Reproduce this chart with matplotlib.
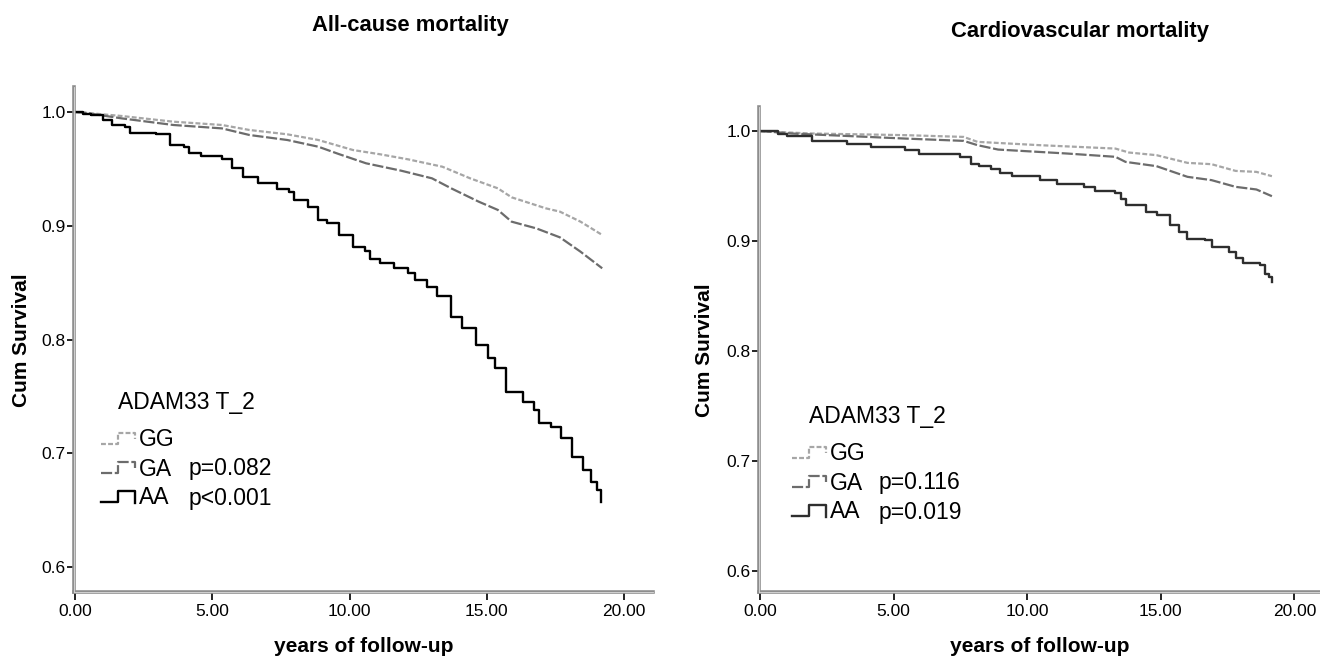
import matplotlib
matplotlib.use("Agg")
import matplotlib.pyplot as plt
from matplotlib.lines import Line2D

# ---------------- data ----------------
# All-cause mortality
ac_gg_t = [0, 0.3, 1.70, 3.58, 5.35, 6.35, 7.73, 8.86, 10.12, 11.12, 12.13, 13.38,
           14.39, 15.4, 15.9, 17.15, 17.66, 18.41, 19.2]
ac_gg_s = [1.0, 0.9995, 0.9965, 0.9915, 0.9886, 0.9842, 0.9804, 0.9754, 0.9666, 0.9628,
           0.9584, 0.9519, 0.9417, 0.9329, 0.925, 0.9153, 0.9124, 0.9036, 0.8919]

ac_ga_t = [0, 0.3, 1.70, 3.58, 5.35, 6.35, 7.73, 8.86, 9.6, 10.6, 11.88, 13.0, 13.7,
           14.7, 15.4, 15.9, 16.8, 17.66, 18.41, 19.2]
ac_ga_s = [1.0, 0.9995, 0.9944, 0.9886, 0.9856, 0.9798, 0.9754, 0.9695, 0.9631, 0.9549,
           0.9484, 0.9417, 0.9329, 0.9212, 0.9139, 0.9036, 0.8977, 0.8898, 0.8772, 0.8626]

ac_aa_t = [0, 0.3, 0.57, 1.0, 1.33, 1.83, 2.01, 2.96, 3.46, 3.96, 4.15, 4.59, 5.34, 5.72,
           6.1, 6.66, 7.36, 7.8, 7.98, 8.49, 8.86, 9.18, 9.62, 10.12, 10.56, 10.75, 11.12,
           11.62, 12.13, 12.38, 12.8, 13.2, 13.7, 14.1, 14.6, 15.05, 15.3, 15.7, 16.3,
           16.7, 16.9, 17.35, 17.7, 18.1, 18.5, 18.8, 19.0, 19.15]
ac_aa_s = [1.0, 0.9985, 0.9974, 0.993, 0.9886, 0.9871, 0.9812, 0.9807, 0.971, 0.9695,
           0.9642, 0.9613, 0.9584, 0.9505, 0.9431, 0.9373, 0.932, 0.930, 0.9226, 0.9168,
           0.905, 0.9021, 0.8919, 0.8816, 0.878, 0.8705, 0.867, 0.8626, 0.8582, 0.8523,
           0.846, 0.838, 0.820, 0.810, 0.795, 0.784, 0.775, 0.754, 0.745, 0.738, 0.727,
           0.723, 0.713, 0.697, 0.685, 0.675, 0.668, 0.657]

# Cardiovascular mortality
cv_gg_t = [0, 0.4, 1.95, 5.43, 7.62, 8.14, 10.46, 13.3, 13.81, 14.84, 16.0, 16.9, 17.8,
           18.58, 19.16]
cv_gg_s = [1.0, 0.9995, 0.9979, 0.9964, 0.9948, 0.9903, 0.9873, 0.9842, 0.9806, 0.9782,
           0.9712, 0.970, 0.9639, 0.963, 0.9591]

cv_ga_t = [0, 0.4, 1.18, 5.43, 7.62, 8.14, 8.91, 11.49, 13.3, 13.68, 14.84, 16.0, 16.9,
           17.8, 18.58, 19.16]
cv_ga_s = [1.0, 0.9995, 0.9979, 0.9933, 0.9912, 0.9873, 0.9833, 0.9797, 0.9767, 0.9721,
           0.9682, 0.9585, 0.9555, 0.9494, 0.947, 0.9409]

cv_aa_t = [0, 0.66, 1.0, 1.95, 3.24, 4.14, 5.43, 5.94, 7.49, 7.88, 8.2, 8.65, 9.0, 9.43,
           10.46, 11.1, 12.13, 12.52, 13.3, 13.5, 13.68, 14.46, 14.84, 15.36, 15.7, 16.0,
           16.65, 16.9, 17.55, 17.8, 18.06, 18.71, 18.9, 19.05, 19.16]
cv_aa_s = [1.0, 0.9979, 0.9958, 0.9912, 0.9888, 0.9858, 0.9833, 0.9797, 0.9767, 0.9706,
           0.968, 0.9652, 0.962, 0.9591, 0.9555, 0.9518, 0.9494, 0.9455, 0.9439, 0.938,
           0.9327, 0.9267, 0.9236, 0.9145, 0.908, 0.9024, 0.9009, 0.8948, 0.8903, 0.885,
           0.8797, 0.8782, 0.8706, 0.867, 0.863]

titles = ["All-cause mortality", "Cardiovascular mortality"]
xticks = [0, 5, 10, 15, 20]
xticklabels = ["0.00", "5.00", "10.00", "15.00", "20.00"]
yticks = [0.6, 0.7, 0.8, 0.9, 1.0]
yticklabels = ["0.6", "0.7", "0.8", "0.9", "1.0"]
legend_title = "ADAM33 T_2"
groups = ["GG", "GA", "AA"]
pvals_ac = ["", "p=0.082", "p<0.001"]
pvals_cv = ["", "p=0.116", "p=0.019"]

# ---------------- figure ----------------
W, H = 1320, 657
fig = plt.figure(figsize=(W / 100, H / 100), dpi=100)
fig.patch.set_facecolor("white")

NARROW = ["Liberation Sans Narrow", "Liberation Sans", "DejaVu Sans"]
SANS = ["Liberation Sans", "DejaVu Sans"]


def fx(x):
    return x / W


def fy(y):
    return 1 - y / H


styles = {
    "GG": dict(color="#a6a6a6", linestyle=(0, (2.2, 1.0)), lw=1.6),
    "GA": dict(color="#6c6c6c", linestyle=(0, (5.0, 1.2)), lw=1.6),
}


def make_axes(rect, xlim, ylim):
    ax = fig.add_axes(rect)
    ax.set_xlim(*xlim)
    ax.set_ylim(*ylim)
    for s in ["top", "right"]:
        ax.spines[s].set_visible(False)
    for s in ["left", "bottom"]:
        ax.spines[s].set_color("#8e8e8e")
        ax.spines[s].set_linewidth(2.6)
    ax.add_line(Line2D([0, 1], [0, 0], transform=ax.transAxes, color="#dcdcdc",
                       lw=0.6, clip_on=False, zorder=5))
    ax.add_line(Line2D([0, 0], [0, 1], transform=ax.transAxes, color="#dcdcdc",
                       lw=0.6, clip_on=False, zorder=5))
    ax.set_xticks(xticks)
    ax.set_xticklabels(xticklabels, fontfamily=NARROW, fontsize=12.5)
    ax.set_yticks(yticks)
    ax.set_yticklabels(yticklabels, fontfamily=NARROW, fontsize=12.5)
    ax.tick_params(axis="y", direction="out", length=5, width=1.3, color="#111111", pad=1)
    ax.tick_params(axis="x", direction="out", length=5.5, width=1.3, color="#111111", pad=3)
    return ax


# Left panel
axL = make_axes([fx(74), fy(592), fx(653 - 74), (592 - 87) / H], (-0.04, 21.05), (0.578, 1.022))
axL.plot(ac_gg_t, ac_gg_s, **styles["GG"])
axL.plot(ac_ga_t, ac_ga_s, **styles["GA"])
axL.plot(ac_aa_t, ac_aa_s, drawstyle="steps-post", color="#000000", lw=1.7)

# Right panel
axR = make_axes([fx(759), fy(592), fx(1320 - 759), (592 - 107) / H], (-0.04, 20.96), (0.581, 1.022))
axR.plot(cv_gg_t, cv_gg_s, **styles["GG"])
axR.plot(cv_ga_t, cv_ga_s, **styles["GA"])
axR.plot(cv_aa_t, cv_aa_s, drawstyle="steps-post", color="#2e2e2e", lw=1.7)

# Titles and axis labels
fig.text(fx(410), fy(25), titles[0], ha="center", va="center", fontsize=15.8,
         fontweight="bold", fontfamily=SANS)
fig.text(fx(1080), fy(32), titles[1], ha="center", va="center", fontsize=15.8,
         fontweight="bold", fontfamily=SANS)
fig.text(fx(364), fy(647), "years of follow-up", ha="center", va="center", fontsize=15,
         fontweight="bold", fontfamily=SANS)
fig.text(fx(1040), fy(647), "years of follow-up", ha="center", va="center", fontsize=15,
         fontweight="bold", fontfamily=SANS)
fig.text(fx(22), fy(340), "Cum Survival", ha="center", va="center", rotation=90,
         fontsize=15, fontweight="bold", fontfamily=SANS)
fig.text(fx(705), fy(350), "Cum Survival", ha="center", va="center", rotation=90,
         fontsize=15, fontweight="bold", fontfamily=SANS)


# Legends
def legend(x0, ytitle, ys, xtext, xp, pvals, aa_color):
    fig.text(fx(x0 + 17), fy(ytitle), legend_title, ha="left", va="center",
             fontsize=16.5, fontfamily=SANS)
    cols = {"GG": styles["GG"], "GA": styles["GA"],
            "AA": dict(color=aa_color, linestyle="-", lw=1.7)}
    for g, yc, p in zip(groups, ys, pvals):
        st = cols[g]
        yb = yc + 4
        yt = yc - 7
        xs = [x0, x0 + 17, x0 + 17, x0 + 34, x0 + 34]
        yv = [yb, yb, yt, yt, yt + (12 if g == "AA" else 6)]
        fig.add_artist(Line2D([fx(v) for v in xs], [fy(v) for v in yv],
                              transform=fig.transFigure, color=st["color"],
                              linestyle=st["linestyle"], lw=st["lw"]))
        fig.text(fx(xtext), fy(yc), g, ha="left", va="center", fontsize=16.5,
                 fontfamily=SANS)
        if p:
            fig.text(fx(xp), fy(yc), p, ha="left", va="center", fontsize=16.5,
                     fontfamily=SANS)


legend(101, 403, [440, 469, 498], 139, 189, pvals_ac, "#000000")
legend(792, 417, [454, 483, 512], 830, 879, pvals_cv, "#2e2e2e")

fig.savefig("out.png", dpi=100, facecolor="white")
